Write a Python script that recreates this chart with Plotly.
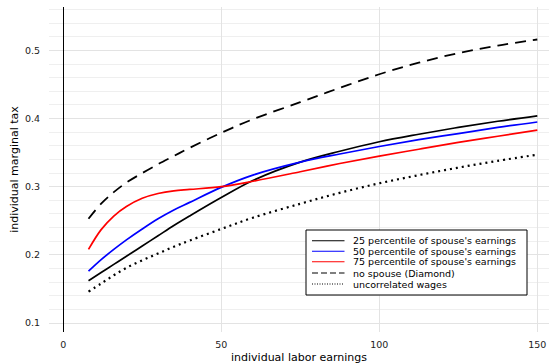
import plotly.graph_objects as go

x = [8, 12, 16, 20, 25, 30, 35, 40, 50, 60, 75, 87.5, 100, 112.5, 125, 137.5, 150]
p25 = [0.162, 0.174, 0.186, 0.198, 0.213, 0.228, 0.243, 0.257, 0.284, 0.309, 0.336, 0.352, 0.366, 0.377, 0.387, 0.396, 0.404]
p50 = [0.176, 0.193, 0.208, 0.222, 0.238, 0.253, 0.266, 0.277, 0.299, 0.317, 0.336, 0.348, 0.359, 0.369, 0.378, 0.387, 0.395]
p75 = [0.208, 0.237, 0.257, 0.271, 0.283, 0.290, 0.294, 0.296, 0.300, 0.308, 0.322, 0.334, 0.345, 0.355, 0.365, 0.374, 0.383]
nospouse = [0.253, 0.275, 0.292, 0.306, 0.320, 0.333, 0.345, 0.357, 0.379, 0.399, 0.424, 0.445, 0.465, 0.482, 0.496, 0.507, 0.516]
uncorr = [0.146, 0.158, 0.170, 0.181, 0.192, 0.202, 0.212, 0.221, 0.238, 0.2545, 0.275, 0.291, 0.305, 0.317, 0.328, 0.338, 0.347]

names = ["25 percentile of spouse's earnings", "50 percentile of spouse's earnings",
         "75 percentile of spouse's earnings", "no spouse (Diamond)", "uncorrelated wages"]

series = [(p25, "black", "solid", 1.7), (p50, "blue", "solid", 1.7), (p75, "red", "solid", 1.7),
          (nospouse, "black", "11px,7px", 1.8), (uncorr, "black", "2px,4px", 2.2)]
legend_dash = ["solid", "solid", "solid", "6px,3px", "1px,1.5px"]

fig = go.Figure()
for (y, c, d, w), n in zip(series, names):
    fig.add_trace(go.Scatter(x=x, y=y, mode="lines", name=n, showlegend=False,
                             line=dict(color=c, dash=d, width=w, shape="spline", smoothing=1.0)))

# custom compact legend (paper coordinates)
L, R, T, B = 49, 549, 7, 332
W, H = R - L, B - T
def px(p):
    return (p - L) / W
def py(p):
    return (B - p) / H

fig.add_shape(type="rect", xref="paper", yref="paper", x0=px(306), x1=px(527), y0=py(295), y1=py(230),
              line=dict(color="black", width=1), fillcolor="white", layer="above")
rows = [240.7, 251.2, 261.8, 273.0, 284.0]
for (y, c, d, w), n, ld, r in zip(series, names, legend_dash, rows):
    fig.add_shape(type="line", xref="paper", yref="paper", x0=px(312), x1=px(344.5), y0=py(r), y1=py(r),
                  line=dict(color=c, width=1.1, dash=ld), layer="above")
    fig.add_annotation(text=n, xref="paper", yref="paper", x=px(350.5), y=py(r), xanchor="left",
                       yanchor="middle", showarrow=False, font=dict(size=9.5, color="black"))

fig.update_layout(
    width=549, height=364,
    margin=dict(l=L, r=549 - R, t=T, b=364 - B),
    plot_bgcolor="white", paper_bgcolor="white",
    font=dict(family="DejaVu Sans", size=9.5, color="black"),
    showlegend=False,
)
fig.update_xaxes(range=[-4.5, 153.7], tickmode="array", tickvals=[0, 50, 100, 150],
                 ticktext=["0", "50", "100", "150"], showgrid=True,
                 gridcolor="#e3e3e3", gridwidth=1, zeroline=True, zerolinecolor="black",
                 zerolinewidth=1.2, showline=False, ticks="", ticklabelstandoff=5,
                 tickfont=dict(size=9.5, color="#222"),
                 title=dict(text="individual labor earnings", font=dict(size=11), standoff=4))
fig.update_yaxes(range=[0.0868, 0.5637], tickmode="array", tickvals=[0.1, 0.2, 0.3, 0.4, 0.5],
                 ticktext=["0.1", "0.2", "0.3", "0.4", "0.5"], showgrid=True,
                 gridcolor="#e3e3e3", gridwidth=1, zeroline=False, showline=False, ticks="",
                 ticklabelstandoff=8, tickfont=dict(size=9.5, color="#222"),
                 minor=dict(dtick=0.02, tick0=0.1, showgrid=True, gridcolor="#efefef", gridwidth=1),
                 title=dict(text="individual marginal tax", font=dict(size=11), standoff=4))

fig.write_html("out.html")
